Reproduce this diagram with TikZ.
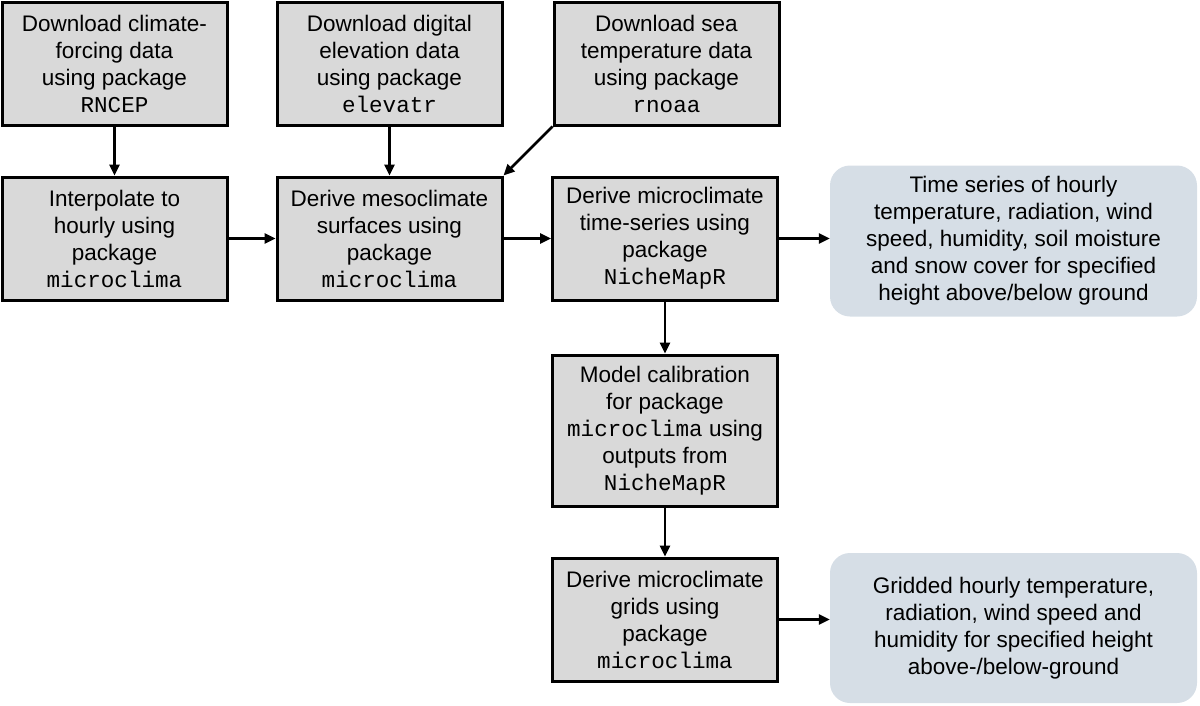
\documentclass[tikz,border=0pt]{standalone}
\usepackage{fontspec}
\setmainfont{Liberation Sans}
\newfontfamily\codefont{Liberation Mono}
\usetikzlibrary{arrows.meta}
\definecolor{boxgray}{HTML}{D9D9D9}
\definecolor{outblue}{HTML}{D6DEE6}
\newcommand\pkg[1]{{\codefont\fontsize{22.6}{27}\selectfont #1}}
\begin{document}
\begin{tikzpicture}[x=1pt,y=-1pt,
  procbox/.style={draw=black, line width=3pt, fill=boxgray, minimum width=225pt, minimum height=123pt, align=center, inner sep=1pt, font=\fontsize{22.5}{27}\selectfont},
  outbox/.style={fill=outblue, rounded corners=20pt, minimum width=367pt, minimum height=151pt, align=center, inner sep=1pt, font=\fontsize{22.5}{27}\selectfont},
  flow/.style={line width=2.5pt, -{Triangle[length=11pt,width=10pt]}}]
\useasboundingbox (0,0) rectangle (1200,705);
\node[procbox] (b1) at (114.5,63.5) {Download climate-\\forcing data\\using package\\\pkg{RNCEP}};
\node[procbox] (b2) at (389.5,63.5) {Download digital\\elevation data\\using package\\\pkg{elevatr}};
\node[procbox] (b3) at (666.5,63.5) {Download sea\\temperature data\\using package\\\pkg{rnoaa}};
\node[procbox] (b4) at (114.5,238.5) {Interpolate to\\hourly using\\package\\\pkg{microclima}};
\node[procbox] (b5) at (389.5,238.5) {Derive mesoclimate\\surfaces using\\package\\\pkg{microclima}};
\node[procbox] (b6) at (665,238.5) {Derive microclimate\\time-series using\\package\\\pkg{NicheMapR}};
\node[procbox, minimum height=151pt] (b7) at (665,430.5) {Model calibration\\for package\\\pkg{microclima} using\\outputs from\\\pkg{NicheMapR}};
\node[procbox] (b8) at (665,619.5) {Derive microclimate\\grids using\\package\\\pkg{microclima}};
\node[outbox] (r1) at (1013.5,241) {Time series of hourly\\temperature, radiation, wind\\speed, humidity, soil moisture\\and snow cover for specified\\height above/below ground};
\node[outbox, minimum height=150pt] (r2) at (1013.5,628) {Gridded hourly temperature,\\radiation, wind speed and\\humidity for specified height\\above-/below-ground};
\draw[flow] (b1) -- (b4);
\draw[flow] (b2) -- (b5);
\draw[flow] (b3.south west) -- (b5.north east);
\draw[flow] (b4) -- (b5);
\draw[flow] (b5) -- (b6);
\draw[flow] (b6) -- (b6 -| r1.west);
\draw[flow] (b6) -- (b7);
\draw[flow] (b7) -- (b8);
\draw[flow] (b8) -- (b8 -| r2.west);
\end{tikzpicture}
\end{document}
